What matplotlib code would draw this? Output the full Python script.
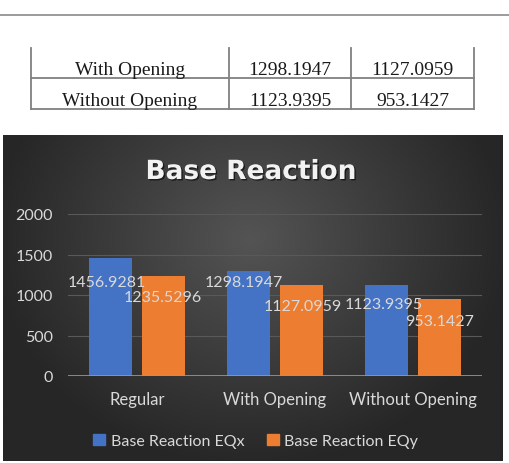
import numpy as np
import matplotlib.pyplot as plt
from matplotlib.patches import Patch
import matplotlib.patheffects as pe

# data
categories = ['Regular', 'With Opening', 'Without Opening']
eqx = [1456.9281, 1298.1947, 1123.9395]
eqy = [1235.5296, 1127.0959, 953.1427]
series_names = ['Base Reaction EQx', 'Base Reaction EQy']
y_ticks = [0, 500, 1000, 1500, 2000]

# label nudges in pixels (dx, dy) relative to bar top, as placed in the original
eqx_nudge = [(-4, -24), (-5, -11), (-3, -19)]
eqy_nudge = [(0, -21), (2, -21), (0, -22)]

blue = '#4472C4'
orange = '#ED7D31'
light = '#d9d9d9'

W, H = 509, 464
fig = plt.figure(figsize=(W / 100, H / 100), dpi=100)
fig.patch.set_facecolor('white')

# page layer in pixel coords
page = fig.add_axes([0, 0, 1, 1])
page.set_xlim(0, W)
page.set_ylim(H, 0)
page.axis('off')

# header rule
page.plot([0, W], [16, 16], color='#8a8a8a', lw=1.2)

# table (rest of the table from previous page)
col_x = [31, 229, 351, 474]
row_y = [49, 79, 110]
tcol = '#808080'
for x in col_x:
    page.plot([x, x], [row_y[0], row_y[-1]], color=tcol, lw=1.3)
for y in row_y[1:]:
    page.plot([col_x[0], col_x[-1]], [y, y], color=tcol, lw=1.3)
baselines = [75, 106]
for i, (name, vx, vy) in enumerate(zip(categories[1:], eqx[1:], eqy[1:])):
    cells = [name, f'{vx:.4f}', f'{vy:.4f}']
    for j, s in enumerate(cells):
        cx = (col_x[j] + col_x[j + 1]) / 2
        page.text(cx, baselines[i], s, ha='center', va='baseline',
                  fontsize=14, family='Liberation Serif', color='#1a1a1a')

# chart panel with radial gradient
px0, px1, py0, py1 = 3, 503, 136, 462
gx, gy = np.meshgrid(np.linspace(px0, px1, 300), np.linspace(py0, py1, 200))
r = np.sqrt(((gx - 250) / 260) ** 2 + ((gy - 240) / 230) ** 2)
r = np.clip(r, 0, 1)
c0 = np.array([0x54, 0x54, 0x54]) / 255
c1 = np.array([0x26, 0x26, 0x26]) / 255
img = c0[None, None, :] * (1 - r[..., None]) + c1[None, None, :] * r[..., None]
page.imshow(img, extent=[px0, px1, py1, py0], aspect='auto', zorder=0)

page.text(251, 173, 'Base Reaction', ha='center', va='center', fontsize=19,
          fontweight='bold', family='DejaVu Sans', color='#f2f2f2',
          path_effects=[pe.withSimplePatchShadow(offset=(1, -1), shadow_rgbFace='black', alpha=0.6)])

# plot area
ax_l, ax_r, ax_b, ax_t = 68, 482, 377, 215
ax = fig.add_axes([ax_l / W, 1 - ax_b / H, (ax_r - ax_l) / W, (ax_b - ax_t) / H])
ax.patch.set_alpha(0)
x = np.arange(len(categories))
bw = 0.31
off = 0.19
b1 = ax.bar(x - off, eqx, bw, color=blue, zorder=3)
b2 = ax.bar(x + off, eqy, bw, color=orange, zorder=3)
ax.set_xlim(-0.5, len(categories) - 0.5)
ax.set_ylim(0, 2000)
ax.set_yticks(y_ticks)
ax.set_xticks(x)
ax.set_xticklabels(categories)
for s in ax.spines.values():
    s.set_visible(False)
ax.axhline(0, color='#999999', lw=1.2, zorder=4)
ax.grid(axis='y', color='#595959', lw=0.8, zorder=0)
ax.tick_params(length=0, colors=light, labelsize=11.5)
ax.tick_params(axis='x', pad=11, labelsize=12)
ax.tick_params(axis='y', pad=11)
for lab in ax.get_xticklabels() + ax.get_yticklabels():
    lab.set_family('Lato')

for bars, vals, nud in [(b1, eqx, eqx_nudge), (b2, eqy, eqy_nudge)]:
    for b, v, (dx, dy) in zip(bars, vals, nud):
        ax.annotate(f'{v:.4f}', (b.get_x() + b.get_width() / 2, v),
                    xytext=(dx, dy), textcoords='offset pixels',
                    ha='center', va='center', fontsize=11.5, family='Lato',
                    color=light, zorder=5)

handles = [Patch(color=blue), Patch(color=orange)]
leg = fig.legend(handles, series_names, loc='center', ncol=2,
                 bbox_to_anchor=(255.5 / W, 1 - 442 / H), frameon=False,
                 handlelength=0.75, handleheight=0.75, handletextpad=0.35,
                 columnspacing=1.4, prop={'family': 'Lato', 'size': 11.5})
for t in leg.get_texts():
    t.set_color(light)

fig.savefig('out.png', dpi=100)
